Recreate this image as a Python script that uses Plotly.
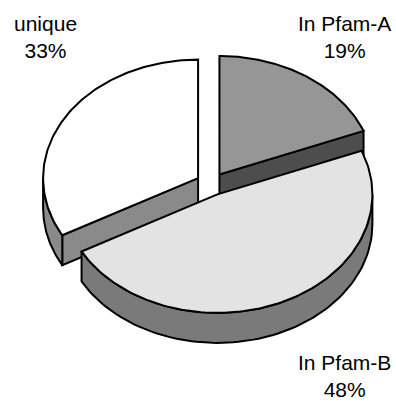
import numpy as np
import plotly.graph_objects as go

# ---- data ----
labels = ["In Pfam-A", "In Pfam-B", "unique"]
values = [19, 48, 33]
top_colors = ["#969696", "#e3e3e3", "#ffffff"]
side_colors = ["#4d4d4d", "#7a7a7a", "#8a8a8a"]

# ---- geometry (pixels) ----
W, H = 396, 405
CX, CY = 211, 184
RX, RY = 155, 118.5
DEPTH = 30
EXPLODE = 15
K = RY / RX

total = sum(values)
fracs = [v / total for v in values]
starts = np.cumsum([0] + fracs[:-1]) * 2 * np.pi
ends = starts + np.array(fracs) * 2 * np.pi


def pt(cx, cy, th, dz=0):
    return cx + RX * np.sin(th), cy - RY * np.cos(th) + dz


fig = go.Figure()


def poly(xs, ys, color):
    xs = list(xs) + [xs[0]]
    ys = list(ys) + [ys[0]]
    fig.add_trace(go.Scatter(x=xs, y=ys, mode="lines", fill="toself",
                             fillcolor=color, line=dict(color="black", width=2),
                             hoverinfo="skip", showlegend=False))


slices = []
for i in range(len(values)):
    a1, a2 = starts[i], ends[i]
    mid = (a1 + a2) / 2
    cx = CX + EXPLODE * np.sin(mid)
    cy = CY - EXPLODE * K * np.cos(mid)
    slices.append((cy - RY * 0.3 * np.cos(mid), i, a1, a2, cx, cy))

slices.sort()
for _, i, a1, a2, cx, cy in slices:
    # radial cut faces
    for a, vis in ((a1, np.sin(a1) < -1e-9), (a2, np.sin(a2) > 1e-9)):
        if vis:
            ex, ey = pt(cx, cy, a)
            poly([cx, ex, ex, cx], [cy, ey, ey + DEPTH, cy + DEPTH], side_colors[i])
    # outer side (front half: pi/2..3pi/2)
    lo, hi = max(a1, np.pi / 2), min(a2, 3 * np.pi / 2)
    if hi > lo:
        th = np.linspace(lo, hi, 80)
        tx, ty = pt(cx, cy, th)
        xs = np.concatenate([tx, tx[::-1]])
        ys = np.concatenate([ty, (ty + DEPTH)[::-1]])
        poly(xs, ys, side_colors[i])
    # top face
    th = np.linspace(a1, a2, 120)
    tx, ty = pt(cx, cy, th)
    poly(np.concatenate([[cx], tx]), np.concatenate([[cy], ty]), top_colors[i])

# labels
label_pos = {"In Pfam-A": (344, 37), "In Pfam-B": (344, 376), "unique": (45, 37)}
for lab, v in zip(labels, values):
    x, y = label_pos[lab]
    fig.add_annotation(x=x, y=y, text=f"{lab}<br>{round(v / total * 100)}%",
                       showarrow=False, xanchor="center", yanchor="middle",
                       font=dict(family="Liberation Sans, Arial", size=21, color="black"),
                       align="center")

fig.update_layout(
    width=W, height=H, margin=dict(l=0, r=0, t=0, b=0),
    paper_bgcolor="white", plot_bgcolor="white",
    xaxis=dict(range=[0, W], visible=False, fixedrange=True),
    yaxis=dict(range=[H, 0], visible=False, fixedrange=True),
)
fig.write_html("out.html")
